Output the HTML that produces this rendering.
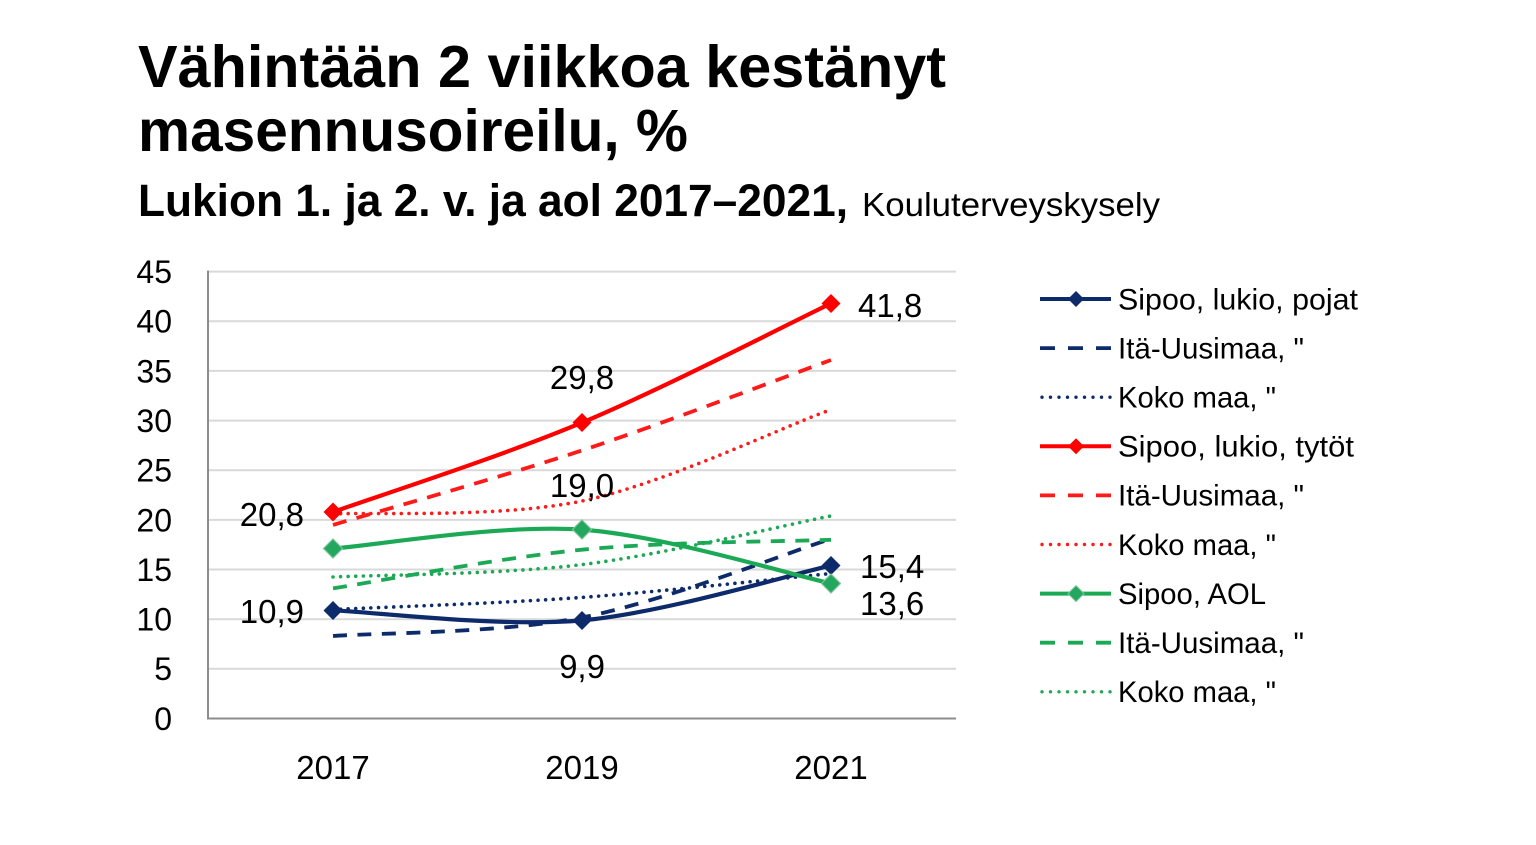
<!DOCTYPE html>
<html>
<head>
<meta charset="utf-8">
<style>
  html,body{margin:0;padding:0;background:#fff;}
  svg{display:block;}
  text{font-family:"Liberation Sans", "DejaVu Sans", sans-serif; fill:#000;}
</style>
</head>
<body>
<svg width="1536" height="845" viewBox="0 0 1536 845" xmlns="http://www.w3.org/2000/svg">
  <rect x="0" y="0" width="1536" height="845" fill="#fff"/>

  <!-- Titles -->
  <text x="138" y="87" font-size="59" font-weight="bold" textLength="808" lengthAdjust="spacingAndGlyphs">Vähintään 2 viikkoa kestänyt</text>
  <text x="138" y="151" font-size="59" font-weight="bold" textLength="550" lengthAdjust="spacingAndGlyphs">masennusoireilu, %</text>
  <text x="138" y="216" font-size="45" font-weight="bold" textLength="710" lengthAdjust="spacingAndGlyphs">Lukion 1. ja 2. v. ja aol 2017–2021,</text>
  <text x="862" y="216" font-size="33" textLength="298" lengthAdjust="spacingAndGlyphs">Kouluterveyskysely</text>

  <!-- Gridlines -->
  <g stroke="#d9d9d9" stroke-width="2">
    <line x1="208" y1="271.6" x2="956" y2="271.6"/>
    <line x1="208" y1="321.2" x2="956" y2="321.2"/>
    <line x1="208" y1="370.9" x2="956" y2="370.9"/>
    <line x1="208" y1="420.6" x2="956" y2="420.6"/>
    <line x1="208" y1="470.2" x2="956" y2="470.2"/>
    <line x1="208" y1="519.9" x2="956" y2="519.9"/>
    <line x1="208" y1="569.5" x2="956" y2="569.5"/>
    <line x1="208" y1="619.2" x2="956" y2="619.2"/>
    <line x1="208" y1="668.8" x2="956" y2="668.8"/>
  </g>
  <!-- Axes -->
  <line x1="208" y1="270.6" x2="208" y2="718.5" stroke="#8c8c8c" stroke-width="2"/>
  <line x1="207" y1="718.5" x2="956" y2="718.5" stroke="#8c8c8c" stroke-width="2"/>

  <!-- Y tick labels -->
  <g font-size="32" text-anchor="end">
    <text x="172" y="283">45</text>
    <text x="172" y="332.6">40</text>
    <text x="172" y="382.3">35</text>
    <text x="172" y="432">30</text>
    <text x="172" y="481.6">25</text>
    <text x="172" y="531.3">20</text>
    <text x="172" y="580.9">15</text>
    <text x="172" y="630.6">10</text>
    <text x="172" y="680.2">5</text>
    <text x="172" y="729.9">0</text>
  </g>

  <!-- X labels -->
  <g font-size="33" text-anchor="middle">
    <text x="333" y="779">2017</text>
    <text x="582" y="779">2019</text>
    <text x="831" y="779">2021</text>
  </g>

  <!-- Dotted series -->
  <g fill="none" stroke-linecap="round" stroke-width="3.6" stroke-dasharray="0 7.6">
    <path d="M333 609.5 C374.5 607.5 499 603.5 582 597.4 C665 591.3 789.5 577.5 831 573.5" stroke="#0d2a6b"/>
    <path d="M333 514 C374.5 511.9 499 518.2 582 501 C665 483.8 789.5 423.8 831 409.7" stroke="#ff1a1a"/>
    <path d="M333 577 C374.5 575 499 574.7 582 564.6 C665 554.5 789.5 524 831 515.9" stroke="#1ca955"/>
  </g>

  <!-- Dashed series -->
  <g fill="none" stroke-width="3.8" stroke-dasharray="14 10.5">
    <path d="M333 636 C374.5 632.9 499 633.4 582 617.5 C665 601.3 789.5 551.9 831 538.8" stroke="#0d2a6b"/>
    <path d="M333 524.9 C374.5 512.5 499 477.9 582 450.4 C665 422.9 789.5 375.1 831 360" stroke="#ff1a1a"/>
    <path d="M333 588.4 C374.5 582 499 557.8 582 549.7 C665 541.6 789.5 541.5 831 539.8" stroke="#1ca955"/>
  </g>

  <!-- Solid series -->
  <g fill="none" stroke-width="4.2" stroke-linejoin="round">
    <path d="M333 610.3 C374.5 612 499 627.6 582 620.4 C665 612.8 789.5 574.7 831 565.6" stroke="#0d2a6b"/>
    <path d="M333 512 C374.5 497.1 499 457.4 582 422.6 C665 387.8 789.5 323.3 831 303.4" stroke="#ff0000"/>
    <path d="M333 548.5 C374.5 545.5 499 524 582 529.6 C665 535.6 789.5 574.5 831 583.5" stroke="#1ca955"/>
  </g>

  <!-- Markers -->
  <g>
    <path d="M333 601 L342.5 610.5 L333 620 L323.5 610.5 Z" fill="#0d2a6b"/>
    <path d="M582 611 L591.5 620.5 L582 630 L572.5 620.5 Z" fill="#0d2a6b"/>
    <path d="M831 556 L840.5 565.5 L831 575 L821.5 565.5 Z" fill="#0d2a6b"/>

    <path d="M333 502.5 L342.5 512 L333 521.5 L323.5 512 Z" fill="#ff0000"/>
    <path d="M582 413 L591.5 422.5 L582 432 L572.5 422.5 Z" fill="#ff0000"/>
    <path d="M831 294 L840.5 303.5 L831 313 L821.5 303.5 Z" fill="#ff0000"/>

    <path d="M333 539 L342.5 548.5 L333 558 L323.5 548.5 Z" fill="#23a75e" stroke="#7cc49a" stroke-width="1.2"/>
    <path d="M582 520 L591.5 529.5 L582 539 L572.5 529.5 Z" fill="#23a75e" stroke="#7cc49a" stroke-width="1.2"/>
    <path d="M831 574 L840.5 583.5 L831 593 L821.5 583.5 Z" fill="#23a75e" stroke="#7cc49a" stroke-width="1.2"/>
  </g>

  <!-- Data labels -->
  <g font-size="33">
    <text x="304" y="526" text-anchor="end">20,8</text>
    <text x="304" y="623" text-anchor="end">10,9</text>
    <text x="582" y="389" text-anchor="middle">29,8</text>
    <text x="582" y="497" text-anchor="middle">19,0</text>
    <text x="582" y="678" text-anchor="middle">9,9</text>
    <text x="858" y="317">41,8</text>
    <text x="860" y="578">15,4</text>
    <text x="860" y="615">13,6</text>
  </g>

  <!-- Legend -->
  <g>
    <line x1="1040" y1="299" x2="1111" y2="299" stroke="#0d2a6b" stroke-width="4"/>
    <path d="M1076 291 L1084 299 L1076 307 L1068 299 Z" fill="#0d2a6b"/>
    <line x1="1040" y1="348.1" x2="1111" y2="348.1" stroke="#0d2a6b" stroke-width="3.8" stroke-dasharray="15 13"/>
    <line x1="1042" y1="397.2" x2="1111" y2="397.2" stroke="#0d2a6b" stroke-width="3.4" stroke-dasharray="0 8.5" stroke-linecap="round"/>
    <line x1="1040" y1="446.3" x2="1111" y2="446.3" stroke="#ff0000" stroke-width="4"/>
    <path d="M1076 438.3 L1084 446.3 L1076 454.3 L1068 446.3 Z" fill="#ff0000"/>
    <line x1="1040" y1="495.4" x2="1111" y2="495.4" stroke="#ff1a1a" stroke-width="3.8" stroke-dasharray="15 13"/>
    <line x1="1042" y1="544.5" x2="1111" y2="544.5" stroke="#ff1a1a" stroke-width="3.4" stroke-dasharray="0 8.5" stroke-linecap="round"/>
    <line x1="1040" y1="593.6" x2="1111" y2="593.6" stroke="#1ca955" stroke-width="4"/>
    <path d="M1076 585.6 L1084 593.6 L1076 601.6 L1068 593.6 Z" fill="#23a75e" stroke="#7cc49a" stroke-width="1"/>
    <line x1="1040" y1="642.7" x2="1111" y2="642.7" stroke="#1ca955" stroke-width="3.8" stroke-dasharray="15 13"/>
    <line x1="1042" y1="691.8" x2="1111" y2="691.8" stroke="#1ca955" stroke-width="3.4" stroke-dasharray="0 8.5" stroke-linecap="round"/>
  </g>
  <g font-size="30">
    <text x="1118" y="309.3" textLength="240" lengthAdjust="spacingAndGlyphs">Sipoo, lukio, pojat</text>
    <text x="1118" y="358.4" textLength="186" lengthAdjust="spacingAndGlyphs">Itä-Uusimaa, "</text>
    <text x="1118" y="407.5" textLength="158" lengthAdjust="spacingAndGlyphs">Koko maa, "</text>
    <text x="1118" y="456.6" textLength="236" lengthAdjust="spacingAndGlyphs">Sipoo, lukio, tytöt</text>
    <text x="1118" y="505.7" textLength="186" lengthAdjust="spacingAndGlyphs">Itä-Uusimaa, "</text>
    <text x="1118" y="554.8" textLength="158" lengthAdjust="spacingAndGlyphs">Koko maa, "</text>
    <text x="1118" y="603.9" textLength="148" lengthAdjust="spacingAndGlyphs">Sipoo, AOL</text>
    <text x="1118" y="653" textLength="186" lengthAdjust="spacingAndGlyphs">Itä-Uusimaa, "</text>
    <text x="1118" y="702.1" textLength="158" lengthAdjust="spacingAndGlyphs">Koko maa, "</text>
  </g>
</svg>
</body>
</html>
